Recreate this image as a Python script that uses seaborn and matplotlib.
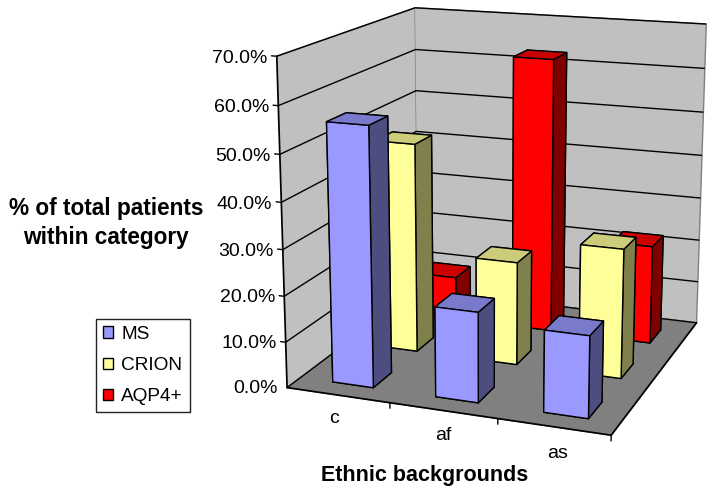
import numpy as np
import matplotlib
matplotlib.use('Agg')
import matplotlib.pyplot as plt
import seaborn as sns
from matplotlib.patches import Patch
from mpl_toolkits.mplot3d import proj3d

groups = ['c', 'af', 'as']
series = ['MS', 'CRION', 'AQP4+']
ms = [56.0, 19.4, 17.4]
crion = [47.0, 23.0, 28.5]
aqp4 = [10.0, 63.0, 22.5]
colors = ['#9999FF', '#FFFF99', '#FF0000']
zticks = [0, 10, 20, 30, 40, 50, 60, 70]

W, H = 714, 496

sns.set_theme(style='white')
plt.rcParams['font.family'] = ['Liberation Sans', 'DejaVu Sans']
plt.rcParams['text.color'] = 'black'

fig = plt.figure(figsize=(W / 100, H / 100), dpi=100)
# square axes so that mplot3d does not shrink the box
ax = fig.add_axes([0, -(W - H) / 2 / H, 1, W / H], projection='3d', computed_zorder=False)
ax.view_init(elev=17, azim=-58)


def fit_camera():
    # Excel style camera: where the corners of the box land in the picture
    cube = [(0, 0, 0), (1, 0, 0), (1, 1, 0), (0, 1, 0), (0, 0, 1), (0, 1, 1), (1, 1, 1)]
    pix = [(288, 388), (611, 435), (697, 323), (417, 289), (276, 56), (416, 8), (706, 24)]
    inv = ax.transData.inverted()
    rows = []
    for (x, y, z), (px, py) in zip(cube, pix):
        u, v = inv.transform((px, H - py))
        rows.append([x, y, z, 1, 0, 0, 0, 0, -u * x, -u * y, -u * z, -u])
        rows.append([0, 0, 0, 0, x, y, z, 1, -v * x, -v * y, -v * z, -v])
    p = np.linalg.svd(np.array(rows))[2][-1].reshape(3, 4)
    if p[2, 3] < 0:
        p = -p
    p = p / p[2, 3]
    depth = [-0.4, 1.0, -0.3, 0.0]
    m = np.array([p[0], p[1], depth, p[2]])
    return m @ np.diag([1 / 3, 1 / 3, 1 / 70, 1])


def label3d(x, y, z, s, **kw):
    # plain 2D text at the projected spot
    u, v, _ = proj3d.proj_transform(x, y, z, M)
    ax.text2D(u, v, s, transform=ax.transData, fontsize=14, va='center', zorder=50, **kw)


M = fit_camera()
ax.get_proj = lambda: M

order = 1
for j in [2, 1, 0]:
    vals = [ms, crion, aqp4][j]
    c = np.array(matplotlib.colors.to_rgb(colors[j]))
    # face order of bar3d: bottom, top, front, back, left, right
    shades = [c * 0.5, c * 0.8, c, c, c * 0.5, c * 0.5]
    for i, v in enumerate(vals):
        ax.bar3d(i + 0.32, j + 0.27, 0, 0.40, 0.4, v, color=shades, shade=False,
                 edgecolor='black', linewidth=1.0, zorder=order)
        order += 1

ax.set_xlim(0, 3, view_margin=0)
ax.set_ylim(0, 3, view_margin=0)
ax.set_zlim(0, 70, view_margin=0)
ax.set_xticks([0, 1, 2, 3])
ax.set_yticks([])
ax.set_zticks(zticks)
ax.zaxis.set_ticks_position('lower')

ax.xaxis.pane.set_facecolor('#C0C0C0')
ax.yaxis.pane.set_facecolor('#C0C0C0')
ax.zaxis.pane.set_facecolor('#808080')
for a in (ax.xaxis, ax.yaxis, ax.zaxis):
    a.pane.set_edgecolor('#808080')
    a.pane.set_alpha(1)
    a._axinfo['grid'].update(color='black', linewidth=1.0)
    a._axinfo['tick'].update(inward_factor=0, outward_factor=0)
    a.line.set_color('black')
    a.set_major_formatter('')
    a.set_tick_params(label1On=False, label2On=False)
    a.label.set_visible(False)
    a.offsetText.set_visible(False)
ax.xaxis._axinfo['grid'].update(linewidth=0)
ax.yaxis._axinfo['grid'].update(linewidth=0)

# tick marks the way Excel draws them
for z in zticks:
    ax.plot([-0.05, 0], [0, 0], [z, z], color='black', lw=1.0, zorder=40)
    label3d(-0.09, 0, z - 0.55, f'{z:.1f}%', ha='right')
for x in range(4):
    ax.plot([x, x], [0, 0], [-1.2, 0], color='black', lw=1.0, zorder=40)
for i, g in enumerate(groups):
    label3d(i + 0.7, -0.5, 0, g, ha='center')

fig.text(106 / W, 1 - 223 / H, '% of total patients\nwithin category', ha='center', va='center',
         fontsize=16.3, fontweight='bold', linespacing=1.35)
fig.text(425 / W, 1 - 476 / H, 'Ethnic backgrounds', ha='center', va='center',
         fontsize=15.5, fontweight='bold')

handles = [Patch(facecolor=c, edgecolor='black', label=s) for c, s in zip(colors, series)]
fig.legend(handles=handles, loc='center', bbox_to_anchor=(143 / W, 1 - 365.5 / H), frameon=True,
           fancybox=False, edgecolor='#222222', framealpha=1, fontsize=13.7,
           handlelength=0.52, handleheight=0.52, handletextpad=0.42, labelspacing=0.75,
           borderpad=0.36, borderaxespad=0)

fig.savefig('out.png', dpi=100)
